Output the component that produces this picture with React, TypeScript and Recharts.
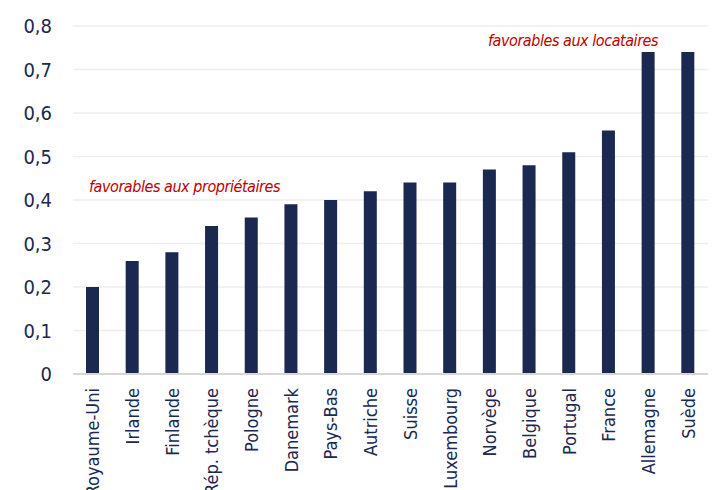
import React from 'react';
import { BarChart, Bar, XAxis, YAxis, CartesianGrid } from 'recharts';

const countries = [
  'Royaume-Uni', 'Irlande', 'Finlande', 'Rép. tchèque', 'Pologne', 'Danemark', 'Pays-Bas', 'Autriche',
  'Suisse', 'Luxembourg', 'Norvège', 'Belgique', 'Portugal', 'France', 'Allemagne', 'Suède',
];
const values = [0.2, 0.26, 0.28, 0.34, 0.36, 0.39, 0.4, 0.42, 0.44, 0.44, 0.47, 0.48, 0.51, 0.56, 0.74, 0.74];
const yTicks = [0, 0.1, 0.2, 0.3, 0.4, 0.5, 0.6, 0.7, 0.8];

const navy = '#1b2850';
const red = '#c00000';
const font = '"DejaVu Sans Condensed", "DejaVu Sans", sans-serif';

const data = countries.map((c, i) => ({ country: c, value: values[i] }));

const fmt = (v: number) => (v === 0 ? '0' : v.toFixed(1).replace('.', ','));

function CountryTick({ x, y, payload }: any) {
  return (
    <g transform={`translate(${x},${y})`}>
      <text
        transform="rotate(-90)"
        textAnchor="end"
        dy="0.36em"
        fill={navy}
        fontSize={18}
        fontFamily={font}
      >
        {payload.value}
      </text>
    </g>
  );
}

const note: React.CSSProperties = {
  position: 'absolute',
  color: red,
  fontStyle: 'italic',
  fontSize: 16,
  letterSpacing: -0.45,
  fontFamily: font,
  whiteSpace: 'nowrap',
};

export default function App() {
  return (
    <div style={{ position: 'absolute', left: 0, top: 0, width: 713, height: 490, background: '#fff', overflow: 'hidden' }}>
      <BarChart width={713} height={490} data={data} margin={{ top: 26, right: 5, left: 0, bottom: 0 }}>
        <CartesianGrid vertical={false} stroke="#eeeeee" strokeWidth={1.5} />
        <XAxis
          dataKey="country"
          interval={0}
          height={116}
          tickLine={false}
          tickSize={0}
          tickMargin={14}
          axisLine={{ stroke: '#d6d6d6', strokeWidth: 2 }}
          tick={<CountryTick />}
        />
        <YAxis
          domain={[0, 0.8]}
          ticks={yTicks}
          width={73}
          axisLine={false}
          tickLine={false}
          tickSize={0}
          tickMargin={21}
          tickFormatter={fmt}
          tick={{ fill: navy, fontSize: 20, fontFamily: font }}
        />
        <Bar dataKey="value" fill={navy} barSize={13} isAnimationActive={false} />
      </BarChart>
      <div style={{ ...note, left: 89, top: 177 }}>favorables aux propriétaires</div>
      <div style={{ ...note, left: 488, top: 31 }}>favorables aux locataires</div>
    </div>
  );
}
